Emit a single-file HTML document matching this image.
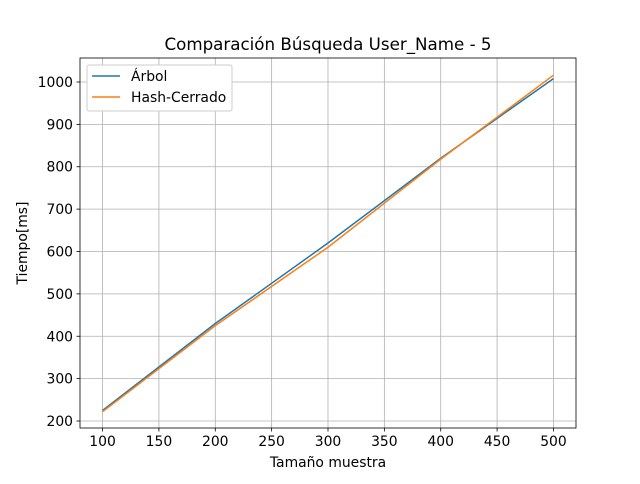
<!DOCTYPE html>
<html><head><meta charset="utf-8"><style>
body{margin:0;background:#fff;font-family:"DejaVu Sans","Liberation Sans",sans-serif;}
svg text{font-family:"DejaVu Sans","Liberation Sans",sans-serif;}
</style></head><body>
<svg id="chart" width="640" height="480"></svg>
<script>
const categories=[100,200,300,400,500];
const arbolValues=[225,430,620,820,1008];
const hashValues=[222,425,610,818,1016];
const xTicks=[100,150,200,250,300,350,400,450,500];
const yTicks=[200,300,400,500,600,700,800,900,1000];
const L=80,R=576,T=58,B=428,xmin=80,xmax=520,ymin=183.5,ymax=1056.6;
const sx=v=>L+(v-xmin)/(xmax-xmin)*(R-L);
const sy=v=>B-(v-ymin)/(ymax-ymin)*(B-T);
const svg=document.getElementById('chart');
const NS='http://www.w3.org/2000/svg';
function mk(tag,attrs,txt){const e=document.createElementNS(NS,tag);for(const k in attrs)e.setAttribute(k,attrs[k]);if(txt!==undefined)e.textContent=txt;svg.appendChild(e);return e;}
xTicks.forEach(v=>{const x=sx(v);
const g=mk('line',{x1:x,x2:x,y1:T,y2:B,stroke:'#b0b0b0','stroke-width':0.8});


mk('line',{x1:x,x2:x,y1:B,y2:B+3.5,stroke:'#000','stroke-width':0.8});
const t=mk('text',{x:x,y:B+18,'text-anchor':'middle','font-size':13.9},v);

});
yTicks.forEach(v=>{const y=sy(v);
const g=mk('line',{x1:L,x2:R,y1:y,y2:y,stroke:'#b0b0b0','stroke-width':0.8});


mk('line',{x1:L-3.5,x2:L,y1:y,y2:y,stroke:'#000','stroke-width':0.8});
const t=mk('text',{x:L-7,y:y+5,'text-anchor':'end','font-size':13.9},v);

});
function series(vals,color,name){const p=mk('polyline',{points:categories.map((c,i)=>sx(c)+','+sy(vals[i])).join(' '),fill:'none',stroke:color,'stroke-width':1.5});

}
series(arbolValues,'#1f77b4','arbol-line');
series(hashValues,'#ff7f0e','hash-cerrado-line');
const fr=mk('rect',{x:L,y:T,width:R-L,height:B-T,fill:'none',stroke:'#000','stroke-width':0.8});


const tt=mk('text',{x:(L+R)/2,y:50,'text-anchor':'middle','font-size':16.7},'Comparación Búsqueda User_Name - 5');


const xl=mk('text',{x:(L+R)/2,y:467,'text-anchor':'middle','font-size':13.9},'Tamaño muestra');


const yl=mk('text',{x:0,y:0,'text-anchor':'middle','font-size':13.9,transform:'translate(27,243) rotate(-90)'},'Tiempo[ms]');


const lg=mk('rect',{x:87,y:65,width:145,height:46,fill:'#fff',stroke:'#ccc','stroke-width':1,rx:2});


mk('line',{x1:92,x2:120,y1:76,y2:76,stroke:'#1f77b4','stroke-width':1.5});
const l1=mk('text',{x:131,y:81,'font-size':13.9},'Árbol');


mk('line',{x1:92,x2:120,y1:97,y2:97,stroke:'#ff7f0e','stroke-width':1.5});
const l2=mk('text',{x:131,y:102,'font-size':13.9},'Hash-Cerrado');


</script>
</body></html>
